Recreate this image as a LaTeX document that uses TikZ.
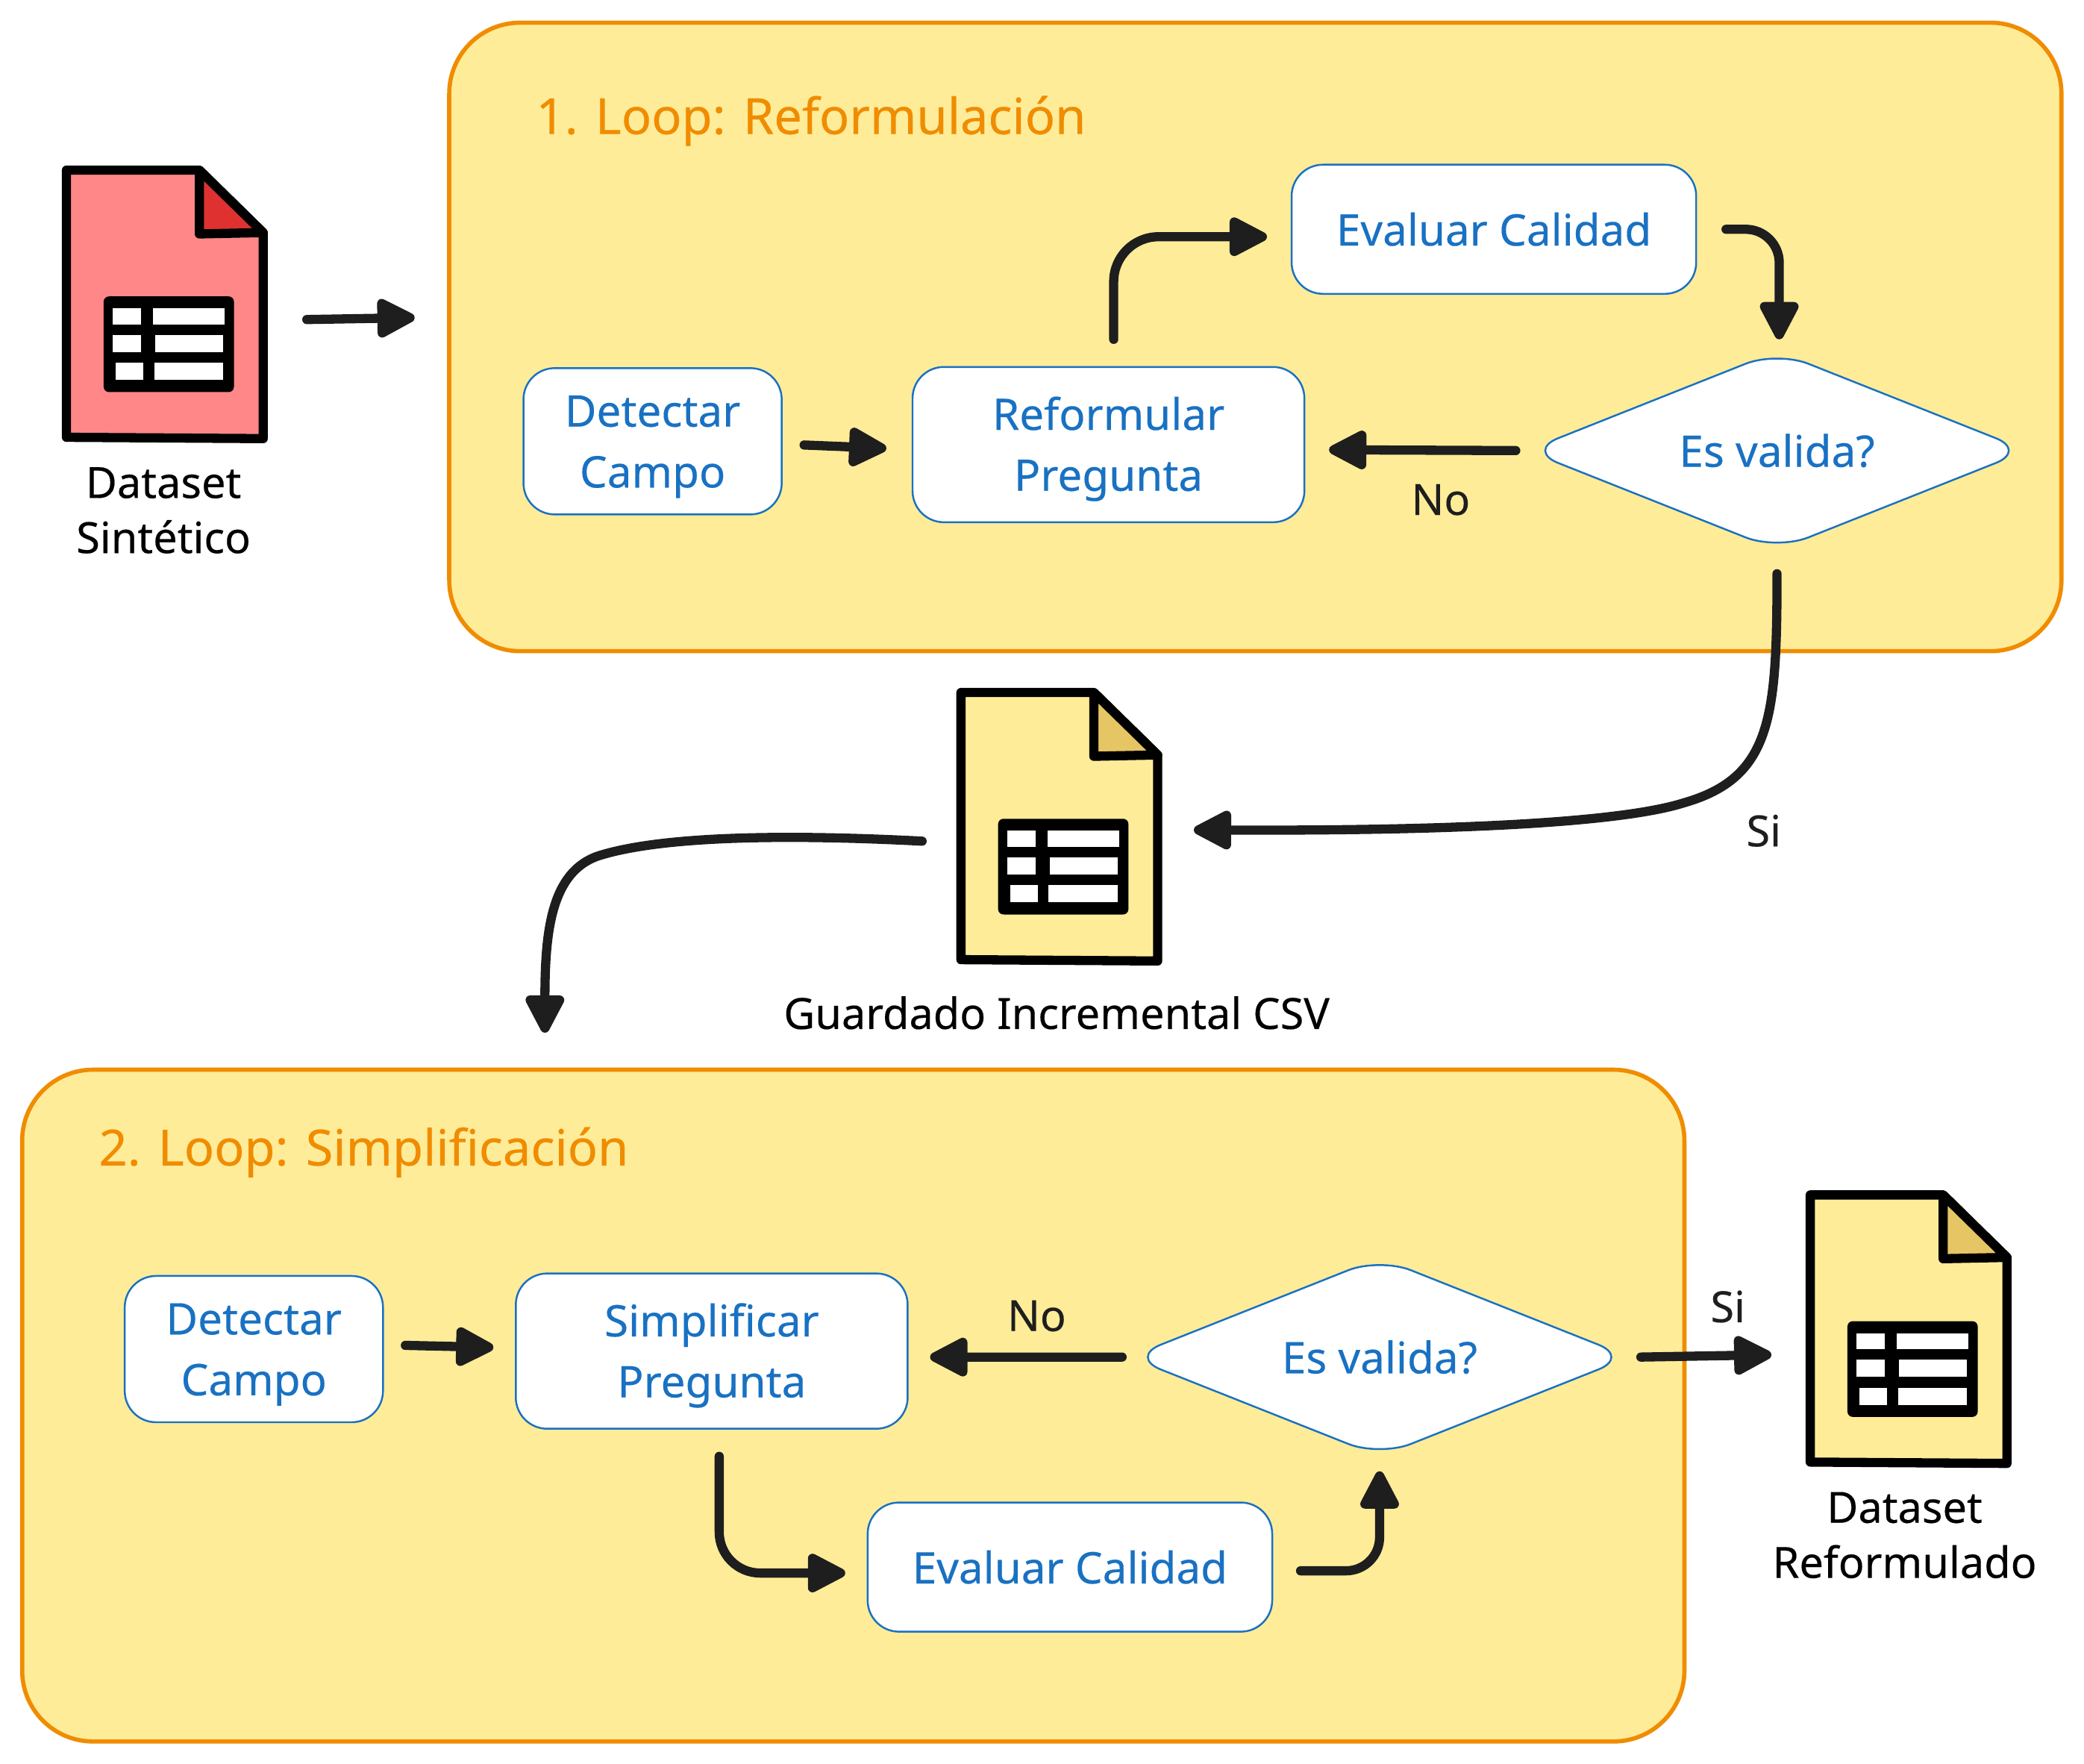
\documentclass[tikz,border=0pt]{standalone}
\usepackage{fontspec}
\setmainfont{Noto Sans}[FakeBold=0.25]
\usetikzlibrary{arrows.meta,shapes.geometric}

\definecolor{loopfill}{HTML}{FFEC99}
\definecolor{loopline}{HTML}{F08C00}
\definecolor{stepline}{HTML}{1971C2}
\definecolor{inkline}{HTML}{1E1E1E}
\definecolor{docred}{HTML}{FF8787}
\definecolor{foldred}{HTML}{E03131}
\definecolor{foldyellow}{HTML}{E6C565}

\newcommand{\linelift}{\rule{0pt}{16pt}}

\tikzset{
  looparea/.style={draw=loopline,fill=loopfill,line width=1.6pt,rounded corners=0.95cm,outer sep=0.47cm},
  looptitle/.style={anchor=west,inner sep=0pt,text=loopline,font=\fontsize{19}{24}\selectfont},
  stepbox/.style={draw=stepline,fill=white,line width=0.7pt,rounded corners=0.42cm,align=center,
    text=stepline,outer sep=0.3cm,font=\fontsize{16.6}{23.2}\selectfont},
  validbox/.style={draw=stepline,fill=white,line width=0.7pt,shape=diamond,shape aspect=2.5,rounded corners=0.45cm,inner sep=0pt,
    minimum width=6.7cm,minimum height=2.66cm,text=stepline,outer sep=0pt,font=\fontsize{16.6}{23.2}\selectfont},
  plainlabel/.style={inner sep=0pt,align=center,text=black,font=\fontsize{16.4}{21}\selectfont},
  edgelabel/.style={inner sep=0pt,text=inkline,font=\fontsize{16.4}{21}\selectfont},
  arrowline/.style={draw=inkline,line width=3.5pt,line cap=round,line join=round,
    -{Triangle[length=16.5pt,width=16pt,round]}},
  pics/docfile/.style 2 args={code={
    \node[minimum width=2.64cm,minimum height=3.58cm,inner sep=0pt,outer sep=0.5cm] (-box) at (74,100.5) {};
    \draw[black,fill=#1,line width=3.5pt,line join=round] (1,1) -- (101,1) -- (149,48) -- (149,203) -- (1,202) -- cycle;
    \draw[black,fill=#2,line width=3.5pt,line join=round] (101,1) -- (149,48) -- (101,49) -- cycle;
    \fill[black,rounded corners=2pt] (29,96) -- (127,96) -- (127,168) -- (29,168) -- cycle;
    \foreach \xa/\ya/\xb/\yb in {36/105/57/117,66/105/120/117,36/125/57/138,68/125/119/138,38/146/59/159,67/146/119/159}
      \fill[white] (\xa,\ya) rectangle (\xb,\yb);
  }},
}

\begin{document}
\begin{tikzpicture}[x={(0.0178125cm,0cm)},y={(0cm,-0.0178125cm)}]
\useasboundingbox (0,0) rectangle (1568,1326.6);

% first loop
\node[looparea,minimum width=21.6cm,minimum height=8.42cm] (loopReform) at (944.5,253.5) {};
\node[looptitle] (titleReform) at (403,91) {1. Loop: Reformulación};
\node[stepbox,minimum width=3.46cm,minimum height=1.96cm] (detectA) at (491,332) {\linelift Detectar\\Campo};
\node[stepbox,minimum width=5.25cm,minimum height=2.08cm] (reformPreg) at (834,334.5) {\linelift Reformular\\Pregunta};
\node[stepbox,minimum width=5.42cm,minimum height=1.73cm] (evalA) at (1124,172.5) {Evaluar Calidad};
\node[validbox] (validA) at (1337,339) {Es valida?};
\node[edgelabel] (noA) at (1084,376) {No};

% second loop
\node[looparea,minimum width=22.27cm,minimum height=9cm] (loopSimpl) at (642,1057.5) {};
\node[looptitle] (titleSimpl) at (74,867) {2. Loop: Simplificación};
\node[stepbox,minimum width=3.46cm,minimum height=1.96cm] (detectB) at (191,1015) {\linelift Detectar\\Campo};
\node[stepbox,minimum width=5.25cm,minimum height=2.08cm] (simplPreg) at (535.5,1016.5) {\linelift Simplificar\\Pregunta};
\node[stepbox,minimum width=5.42cm,minimum height=1.73cm] (evalB) at (805,1179) {Evaluar Calidad};
\node[validbox] (validB) at (1038,1021) {Es valida?};
\node[edgelabel] (noB) at (780,990) {No};

% files
\pic (docSint) at (49,127) {docfile={docred}{foldred}};
\pic (docCsv) at (722,520) {docfile={loopfill}{foldyellow}};
\pic (docFinal) at (1361,898) {docfile={loopfill}{foldyellow}};
\node[plainlabel] (labelSint) at (123,384) {Dataset\\Sintético};
\node[plainlabel] (labelCsv) at (795,762) {Guardado Incremental CSV};
\node[plainlabel] (labelFinal) at (1433,1155) {Dataset\\Reformulado};
\node[edgelabel] (siA) at (1327,625) {Si};
\node[edgelabel] (siB) at (1300,983) {Si};

% free ends
\coordinate (inReform) at (312,239);
\coordinate (inSimpl) at (410,777);

% connectors
\draw[arrowline] ([xshift=0.1cm,yshift=-0.23cm]docSint-box.east) -- (inReform);
\draw[arrowline] ([yshift=-0.05cm]detectA.east) -- ([xshift=-0.05cm,yshift=-0.05cm]reformPreg.west);
\draw[arrowline,rounded corners=0.6cm] ([xshift=0.07cm,yshift=0.07cm]reformPreg.north) |- ([xshift=-0.03cm,yshift=-0.1cm]evalA.west);
\draw[arrowline,rounded corners=0.45cm] ([xshift=0.1cm]evalA.east) -| ([xshift=0.03cm,yshift=0.16cm]validA.north);
\draw[arrowline] ([xshift=-0.15cm]validA.west) -- ([xshift=0.03cm,yshift=-0.07cm]reformPreg.east);
\draw[arrowline] ([yshift=-0.32cm]validA.south) .. controls (1337,540) and (1333,585) .. (1267,604) .. controls (1210,622) and (1050,625) .. ([yshift=-0.07cm]docCsv-box.east);
\draw[arrowline] ([yshift=-0.22cm]docCsv-box.west) .. controls (600,628) and (500,628) .. (450,644) .. controls (415,656) and (410,700) .. (inSimpl);
\draw[arrowline] ([yshift=0.05cm]detectB.east) -- ([yshift=0.05cm]simplPreg.west);
\draw[arrowline] ([xshift=-0.1cm]validB.west) -- ([yshift=-0.08cm]simplPreg.east);
\draw[arrowline,rounded corners=0.55cm] ([xshift=0.1cm,yshift=-0.07cm]simplPreg.south) |- ([yshift=-0.08cm]evalB.west);
\draw[arrowline,rounded corners=0.45cm] ([xshift=0.08cm,yshift=-0.05cm]evalB.east) -| ([yshift=-0.2cm]validB.south);
\draw[arrowline] ([xshift=0.15cm]validB.east) -- ([yshift=-0.37cm]docFinal-box.west);
\end{tikzpicture}
\end{document}
